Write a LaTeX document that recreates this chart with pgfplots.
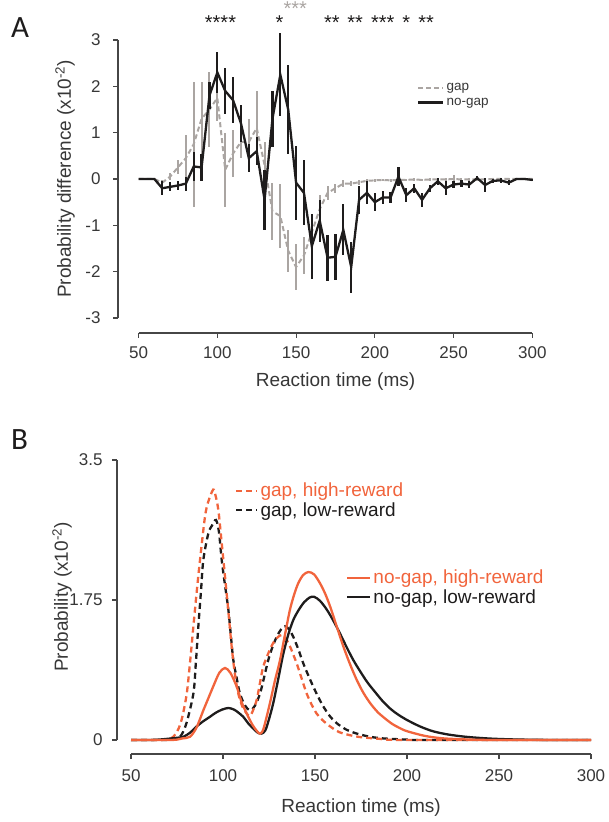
\documentclass[border=0pt]{standalone}
\usepackage{fontspec}
\setmainfont{Liberation Sans}
\newfontfamily\panelfont{Carlito}
\usepackage{pgfplots}
\pgfplotsset{compat=1.18}
\usepackage{pgfplotstable}

\definecolor{orangeR}{RGB}{241,100,60}
\definecolor{grayA}{RGB}{170,165,162}
\definecolor{blk}{RGB}{30,28,28}
\definecolor{axgray}{RGB}{70,70,70}
\definecolor{txtgray}{RGB}{55,55,55}

% panel A: difference no-gap / gap, x y err
\pgfplotstableread{
x y e
50 0 0
55 0 0
60 0 0
65 -0.20 0.15
70 -0.17 0.10
75 -0.14 0.10
80 -0.10 0.15
85 0.27 0.32
90 0.25 0.30
95 1.80 0.30
100 2.30 0.45
105 1.90 0.50
110 1.70 0.50
115 1.20 0.40
120 0.45 0.30
125 0.60 0.30
130 -0.45 0.65
135 1.30 0.60
140 2.25 0.90
145 1.50 0.95
150 -0.08 0.80
155 -0.30 0.70
160 -1.45 0.70
165 -0.90 0.45
170 -1.70 0.50
175 -1.68 0.50
180 -1.10 0.55
185 -1.90 0.55
190 -0.45 0.30
195 -0.30 0.25
200 -0.50 0.20
205 -0.40 0.15
210 -0.40 0.12
215 0.05 0.20
220 -0.35 0.15
225 -0.20 0.10
230 -0.45 0.15
235 -0.20 0.08
240 -0.05 0.08
245 -0.20 0.15
250 -0.12 0.08
255 -0.10 0.08
260 -0.12 0.08
265 0.02 0.05
270 -0.13 0.15
275 -0.04 0.05
280 -0.03 0.05
285 -0.08 0.05
290 0.00 0.03
295 0.00 0.02
300 -0.02 0.02
}\nogapA

\pgfplotstableread{
x y e
50 0 0
55 0 0
60 0 0
65 -0.08 0.05
70 0.05 0.08
75 0.25 0.15
80 0.45 0.50
85 0.75 1.35
90 1.30 0.80
95 1.50 0.80
100 1.75 0.50
105 0.20 0.80
110 0.55 0.50
115 0.80 0.35
120 0.80 0.50
125 1.10 0.80
130 0.30 0.50
135 -0.70 0.62
140 -0.80 0.70
145 -1.55 0.45
150 -1.90 0.50
155 -1.65 0.40
160 -1.15 0.30
165 -0.65 0.30
170 -0.30 0.15
175 -0.20 0.10
180 -0.10 0.08
185 -0.10 0.05
190 -0.07 0.05
195 -0.04 0.04
200 -0.03 0.04
205 -0.02 0.03
210 -0.03 0.03
215 -0.02 0.05
220 -0.02 0.03
225 -0.01 0.03
230 -0.02 0.03
235 -0.01 0.03
240 -0.01 0.03
245 -0.01 0.03
250 0.00 0.08
255 -0.01 0.03
260 -0.01 0.03
265 -0.01 0.03
270 -0.01 0.03
275 0.00 0.02
280 0.00 0.02
285 0.00 0.02
290 0.00 0.02
295 0.00 0.02
300 0.00 0.02
}\gapA

% panel B: model distributions
\pgfplotstableread{
x y
50 0
65 0
70 0.01
73 0.04
76 0.15
78 0.30
80.3 0.58
82 0.95
83.9 1.42
85.7 1.85
87.5 2.25
90.2 2.79
92 2.98
94.7 3.13
96 3.05
97.5 2.87
99.3 2.46
102 1.83
104.7 1.17
106.5 0.82
108.3 0.58
110.5 0.42
112.9 0.33
114.7 0.30
116.5 0.38
118.3 0.50
120 0.70
121.9 0.92
125.5 1.13
128 1.24
130 1.29
131.7 1.31
134 1.27
136.4 1.17
140 0.96
143 0.75
145.5 0.58
148 0.45
150.9 0.33
154 0.25
158.2 0.17
163 0.10
169 0.06
175 0.035
185 0.015
200 0
300 0
}\gapHigh

\pgfplotstableread{
x y
50 0
68 0
72 0.01
76.6 0.04
80 0.20
83.9 0.58
85.2 0.95
86.6 1.42
88 1.85
89.3 2.25
92 2.58
94 2.68
96.2 2.75
97.8 2.60
99.3 2.25
101 1.95
102.9 1.63
104.3 1.30
105.6 1.00
107.4 0.78
109.2 0.58
112 0.43
114.7 0.37
117.4 0.43
120.1 0.58
122.3 0.78
124.6 1.00
127 1.17
129.2 1.29
131.5 1.38
133.7 1.42
136 1.38
138.2 1.29
141 1.13
143.6 0.96
146.3 0.81
149 0.67
151.7 0.54
154.5 0.42
158 0.30
161.8 0.21
167 0.13
172.7 0.08
180 0.04
187 0.02
200 0.005
210 0
300 0
}\gapLow

\pgfplotstableread{
x y
50 0
70 0
75 0.005
78 0.02
82 0.04
85.5 0.15
89.3 0.37
92 0.52
94.7 0.67
98 0.84
101.1 0.90
104 0.84
107.4 0.67
110 0.48
112.9 0.33
116 0.19
118.5 0.11
120.1 0.08
122 0.14
125.5 0.46
128 0.72
131 1.00
133.7 1.32
136.4 1.63
138.7 1.82
140.9 1.96
143.5 2.06
146.4 2.10
149.5 2.07
152.7 1.96
155.5 1.83
158.2 1.67
161.8 1.42
165.4 1.17
169 0.95
172.7 0.75
176.3 0.59
180 0.46
184 0.35
188 0.27
192 0.20
196 0.15
200 0.11
210 0.05
220 0.02
235 0.005
250 0
300 0
}\nogapHigh

\pgfplotstableread{
x y
50 0
60 0
65 0.005
70 0.015
74 0.025
78.4 0.04
82 0.09
85.7 0.17
89 0.23
92.9 0.29
96 0.34
99.5 0.38
102.9 0.40
106 0.38
108.5 0.34
111 0.29
114 0.20
117 0.13
119 0.09
121 0.08
123 0.12
125 0.26
127.3 0.46
130 0.76
132.8 1.08
135.5 1.32
138.2 1.50
141 1.62
144 1.72
147 1.78
149.5 1.79
152.7 1.74
156.4 1.63
160 1.49
163.6 1.33
167.2 1.16
170.8 1.00
174.5 0.86
178.5 0.72
183 0.59
187 0.48
191 0.39
195 0.32
200 0.25
207 0.17
214 0.11
222 0.07
232 0.04
245 0.018
260 0.006
280 0
300 0
}\nogapLow

\tikzset{axln/.style={axgray, line width=1.1pt}}
\pgfplotsset{
  panel/.style={
    scale only axis, clip=false,
    axis lines=left,
    x axis line style={draw=none}, y axis line style={draw=none},
    tick align=outside, major tick length=5pt,
    tick style={axgray, line width=1.1pt},
    ticklabel style={font=\fontsize{17}{19}\selectfont, text=txtgray},
    label style={font=\fontsize{19}{21}\selectfont, text=txtgray},
    /pgf/number format/assume math mode=true,
  },
}

\begin{document}
\begin{tikzpicture}
\useasboundingbox (0,0) rectangle (609pt,822pt);

\node[anchor=north west, font=\panelfont\fontsize{31}{33}\selectfont, text=blk, inner sep=0pt] at (11pt,805pt) {A};
\node[anchor=north west, font=\panelfont\fontsize{31}{33}\selectfont, text=blk, inner sep=0pt] at (11pt,393pt) {B};

% ---------- A ----------
\begin{axis}[panel,
  at={(118pt,489pt)}, anchor=south west,
  width=414.3pt, height=293pt,
  xmin=36.92, xmax=300, ymin=-3.324, ymax=3,
  xtick={50,100,...,300}, ytick={-3,-2,...,3},
  xticklabel style={yshift=-5pt}, yticklabel style={xshift=-9pt},
  xlabel={Reaction time (ms)},
  xlabel style={at={(axis description cs:0.525,0)}, anchor=center, yshift=-49pt},
  ylabel={Probability difference (x10\textsuperscript{-2})},
  ylabel style={at={(axis description cs:-0.128,0.526)}, anchor=center},
  legend style={at={(0.7217,0.860)}, anchor=north west, draw=none, fill=none,
    font=\fontsize{13.5}{15}\selectfont, text=txtgray, inner sep=0pt, row sep=2pt},
  legend cell align=left,
  legend image code/.code={\draw[#1] (0pt,0pt) -- (25pt,0pt);},
]
\draw[axln] (axis cs:50,-3.324) -- (axis cs:300,-3.324);
\draw[axln] (axis cs:36.92,-3) -- (axis cs:36.92,3);

\addplot[grayA, line width=2pt, dash pattern=on 5pt off 3pt,
  error bars/.cd, y dir=both, y explicit, error mark=none,
  error bar style={solid, line width=2pt, grayA}]
  table[x=x, y=y, y error=e] {\gapA};
\addlegendentry{gap}
\addplot[blk, line width=2.3pt,
  error bars/.cd, y dir=both, y explicit, error mark=none,
  error bar style={line width=2.3pt, blk}]
  table[x=x, y=y, y error=e] {\nogapA};
\addlegendentry{no-gap}

\begin{scope}[every node/.style={font=\fontsize{20}{22}\selectfont, text=blk, inner sep=0pt}]
\node at (axis cs:102,3.37) {****};
\node at (axis cs:139.5,3.37) {*};
\node[text=grayA] at (axis cs:149.5,3.67) {***};
\node at (axis cs:172.8,3.37) {**};
\node at (axis cs:187.5,3.37) {**};
\node at (axis cs:205,3.37) {***};
\node at (axis cs:220,3.37) {*};
\node at (axis cs:232.6,3.37) {**};
\end{scope}
\end{axis}

% ---------- B ----------
\begin{axis}[panel,
  at={(117pt,68pt)}, anchor=south west,
  width=474pt, height=294pt,
  xmin=42.39, xmax=300, ymin=-0.175, ymax=3.5,
  xtick={50,100,...,300}, ytick={0,1.75,3.5},
  yticklabels={0,1.75,3.5},
  xticklabel style={yshift=-7pt}, yticklabel style={xshift=-6pt},
  xlabel={Reaction time (ms)},
  xlabel style={at={(axis description cs:0.515,0)}, anchor=center, yshift=-54pt},
  ylabel={Probability (x10\textsuperscript{-2})},
  ylabel style={at={(axis description cs:-0.116,0.534)}, anchor=center},
]
\draw[axln] (axis cs:50,-0.175) -- (axis cs:300,-0.175);
\draw[axln] (axis cs:42.39,0) -- (axis cs:42.39,3.5);

\addplot[blk, line width=2.3pt, dash pattern=on 6pt off 4pt, smooth] table {\gapLow};
\addplot[orangeR, line width=2.3pt, dash pattern=on 6pt off 4pt, smooth] table {\gapHigh};
\addplot[blk, line width=2.3pt, smooth] table {\nogapLow};
\addplot[orangeR, line width=2.3pt, smooth] table {\nogapHigh};
\end{axis}

% legends of B
\begin{axis}[
  at={(117pt,68pt)}, anchor=south west, scale only axis, hide axis,
  width=474pt, height=294pt, xmin=42.39, xmax=300, ymin=-0.175, ymax=3.5,
  legend style={at={(0.249,0.929)}, anchor=north west, draw=none, fill=none,
    font=\fontsize{19}{21}\selectfont, inner sep=0pt, row sep=0pt},
  legend cell align=left,
  legend image code/.code={\draw[#1] (0pt,0pt) -- (21pt,0pt);},
]
\addlegendimage{orangeR, line width=2.3pt, dash pattern=on 6pt off 4pt}
\addlegendentry{\textcolor{orangeR}{gap, high-reward}}
\addlegendimage{blk, line width=2.3pt, dash pattern=on 6pt off 4pt}
\addlegendentry{\textcolor{blk}{gap, low-reward}}
\end{axis}

\begin{axis}[
  at={(117pt,68pt)}, anchor=south west, scale only axis, hide axis,
  width=474pt, height=294pt, xmin=42.39, xmax=300, ymin=-0.175, ymax=3.5,
  legend style={at={(0.483,0.633)}, anchor=north west, draw=none, fill=none,
    font=\fontsize{19}{21}\selectfont, inner sep=0pt, row sep=0pt},
  legend cell align=left,
  legend image code/.code={\draw[#1] (0pt,0pt) -- (23pt,0pt);},
]
\addlegendimage{orangeR, line width=2.3pt}
\addlegendentry{\textcolor{orangeR}{no-gap, high-reward}}
\addlegendimage{blk, line width=2.3pt}
\addlegendentry{\textcolor{blk}{no-gap, low-reward}}
\end{axis}
\end{tikzpicture}
\end{document}
